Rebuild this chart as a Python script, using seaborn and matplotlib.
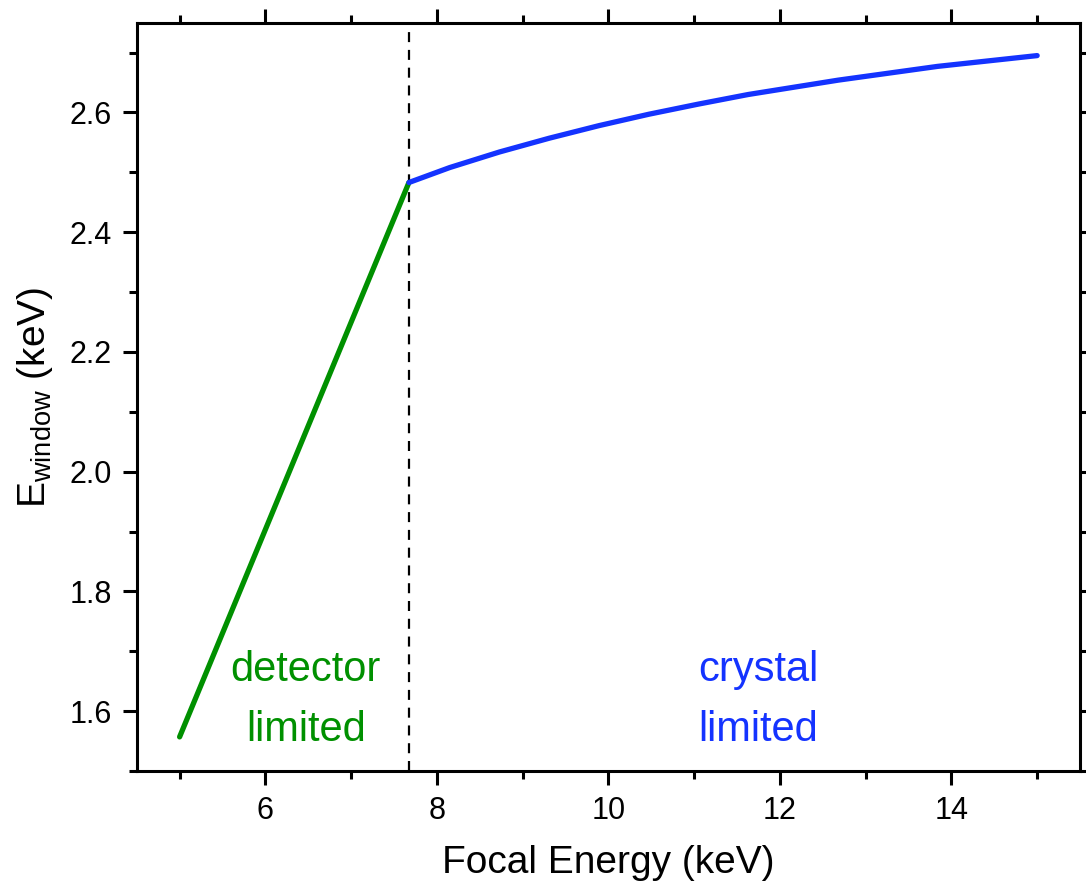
import pandas as pd
import matplotlib.pyplot as plt
import seaborn as sns
from matplotlib.ticker import MultipleLocator

# values
det_energy = [5.0, 7.674]
det_window = [1.557, 2.483]

cry_energy = [7.674, 8.15, 8.73, 9.31, 9.89, 10.47, 11.05, 11.63, 12.68, 13.84, 15.0]
cry_window = [2.483, 2.508, 2.534, 2.557, 2.578, 2.597, 2.614, 2.630, 2.654, 2.677, 2.695]

crossover = 7.674

green = '#009000'
blue = '#1433ff'

sns.set_style('ticks', {'axes.edgecolor': 'black', 'text.color': 'black',
                        'axes.labelcolor': 'black', 'xtick.color': 'black',
                        'ytick.color': 'black'})
plt.rcParams['font.family'] = ['Liberation Sans', 'DejaVu Sans']
plt.rcParams['mathtext.fontset'] = 'custom'
plt.rcParams['mathtext.rm'] = 'Liberation Sans'
plt.rcParams['mathtext.it'] = 'Liberation Sans:italic'

det = pd.DataFrame({'energy': det_energy, 'window': det_window})
cry = pd.DataFrame({'energy': cry_energy, 'window': cry_window})

fig = plt.figure(figsize=(10.86, 8.89), dpi=100)
ax = fig.add_axes([0.1259, 0.1327, 0.8686, 0.8418])

sns.lineplot(x='energy', y='window', data=det, ax=ax, color=green, lw=3.8,
             sort=False, estimator=None, solid_capstyle='round')
sns.lineplot(x='energy', y='window', data=cry, ax=ax, color=blue, lw=3.8,
             sort=False, estimator=None, solid_capstyle='round',
             solid_joinstyle='round')
ax.axvline(crossover, color='black', lw=1.6, ls=(0, (4.5, 3.5)), zorder=1)

ax.set_xlim(4.5, 15.5)
ax.set_ylim(1.5, 2.75)
ax.xaxis.set_major_locator(MultipleLocator(2))
ax.xaxis.set_minor_locator(MultipleLocator(1))
ax.yaxis.set_major_locator(MultipleLocator(0.2))
ax.yaxis.set_minor_locator(MultipleLocator(0.1))
ax.yaxis.set_major_formatter(plt.FormatStrFormatter('%.1f'))

ax.tick_params(which='both', direction='out', top=True, right=True,
               width=2.2, labelsize=22, pad=8, colors='black')
ax.tick_params(which='major', length=10)
ax.tick_params(which='minor', length=5.5)
for s in ax.spines.values():
    s.set_linewidth(2.2)
    s.set_color('black')
    s.set_visible(True)

ax.set_xlabel('Focal Energy (keV)', fontsize=28, labelpad=14, color='black')
ax.set_ylabel(r'E$_{\mathrm{window}}$ (keV)', fontsize=28, labelpad=10, color='black')

ax.text(6.47, 1.668, 'detector', color=green, fontsize=30, ha='center', va='center')
ax.text(6.47, 1.568, 'limited', color=green, fontsize=30, ha='center', va='center')
ax.text(11.75, 1.668, 'crystal', color=blue, fontsize=30, ha='center', va='center')
ax.text(11.75, 1.568, 'limited', color=blue, fontsize=30, ha='center', va='center')

plt.savefig('out.png', dpi=100)
plt.close()
